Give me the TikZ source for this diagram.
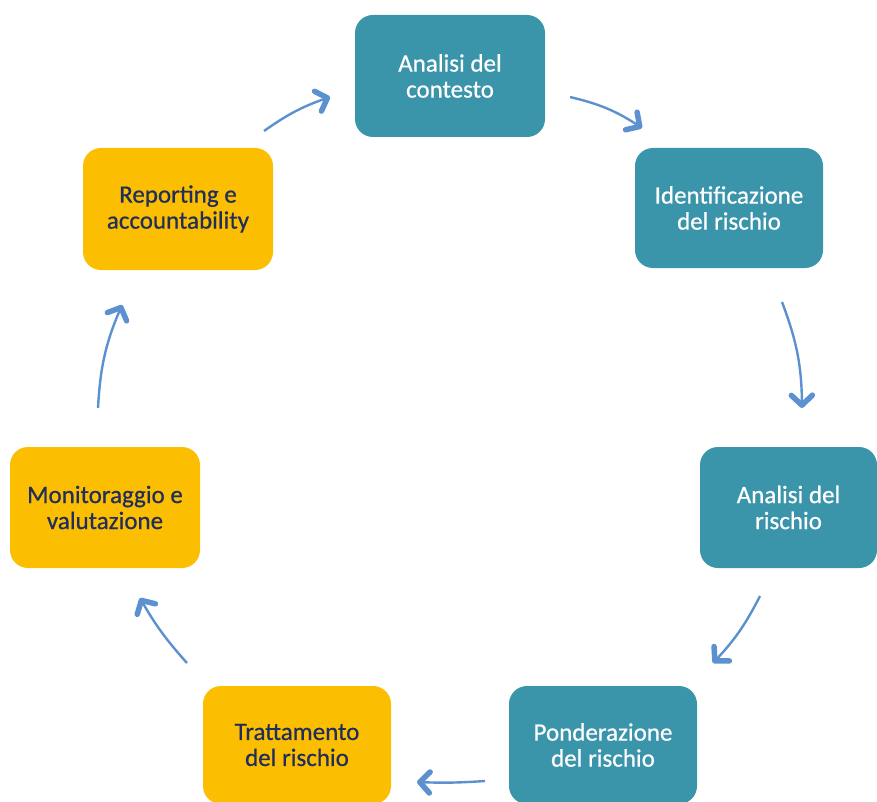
\documentclass[tikz,border=0pt]{standalone}
\usepackage{fontspec}
\setmainfont{Carlito}[FakeBold=0.6]
\usetikzlibrary{arrows.meta}
\definecolor{teal1}{HTML}{3A94AA}
\definecolor{gold1}{HTML}{FCBE00}
\definecolor{navy1}{HTML}{1F2E5C}
\definecolor{arr1}{HTML}{5B91CF}
\tikzset{
  box/.style={rectangle, rounded corners=18pt, align=center, font=\fontsize{25}{26}\selectfont, inner sep=0pt},
  tbox/.style={box, fill=teal1, text=white},
  ybox/.style={box, fill=gold1, text=navy1},
  flow/.style={draw=arr1, line width=2.4pt, -{Straight Barb[length=10pt,width=21pt,line width=5.5pt,round]}},
}
\begin{document}
\begin{tikzpicture}[x=1pt,y=-1pt]
\useasboundingbox (0,0) rectangle (877,802);
\node[tbox, minimum width=190pt, minimum height=122pt] (n1) at (450,76) {Analisi del\\contesto};
\node[tbox, minimum width=188pt, minimum height=120pt] (n2) at (729,208) {Identificazione\\del rischio};
\node[tbox, minimum width=177pt, minimum height=121pt] (n3) at (788.5,507.5) {Analisi del\\rischio};
\node[tbox, minimum width=188pt, minimum height=118pt] (n4) at (603,745) {Ponderazione\\del rischio};
\node[ybox, minimum width=188pt, minimum height=118pt] (n5) at (297,745) {Trattamento\\del rischio};
\node[ybox, minimum width=190pt, minimum height=121pt] (n6) at (105,507.5) {Monitoraggio e\\valutazione};
\node[ybox, minimum width=190pt, minimum height=122pt] (n7) at (178,209) {Reporting e\\accountability};

\coordinate (a1s) at (570,97);  \coordinate (a1e) at (642,128);
\coordinate (a2s) at (782,302); \coordinate (a2e) at (802,408);
\coordinate (a3s) at (760,596); \coordinate (a3e) at (713,663);
\coordinate (a4s) at (485,781); \coordinate (a4e) at (417,782);
\coordinate (a5s) at (187,663); \coordinate (a5e) at (140,598);
\coordinate (a6s) at (98,408);  \coordinate (a6e) at (122,305);
\coordinate (a7s) at (264,131); \coordinate (a7e) at (330,97);

\draw[flow] (a1s) to[bend left=10] (a1e);
\draw[flow] (a2s) to[bend left=10] (a2e);
\draw[flow] (a3s) to[bend left=8] (a3e);
\draw[flow] (a4s) to[bend left=3] (a4e);
\draw[flow] (a5s) to[bend left=6] (a5e);
\draw[flow] (a6s) to[bend left=10] (a6e);
\draw[flow] (a7s) to[bend left=8] (a7e);
\end{tikzpicture}
\end{document}
